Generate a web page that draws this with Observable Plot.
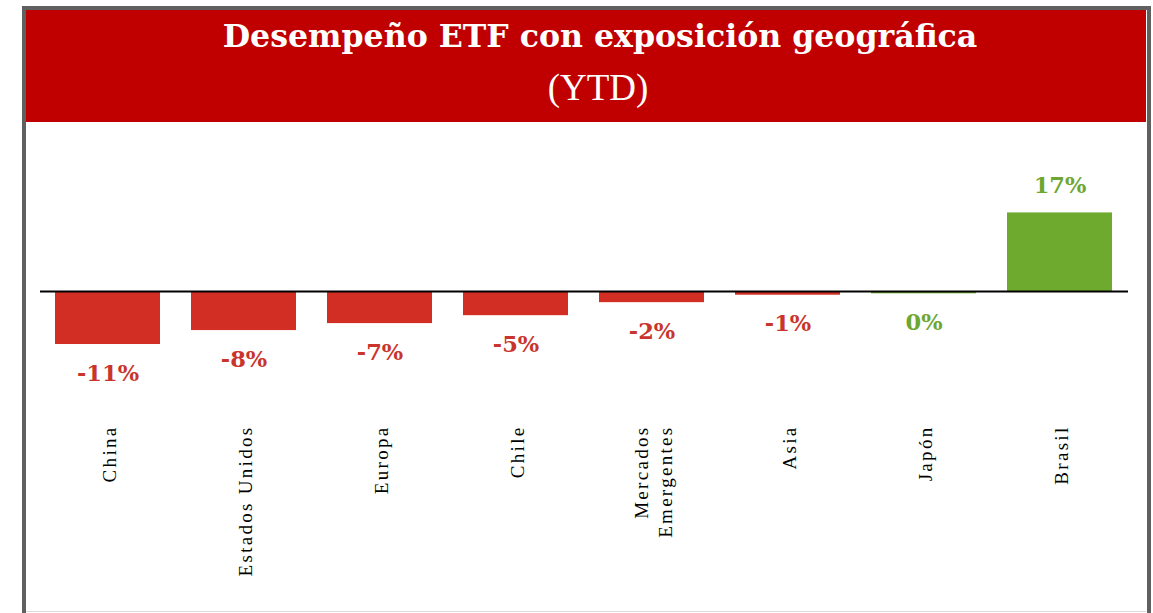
<!DOCTYPE html>
<html><head><meta charset="utf-8">
<script src="https://cdn.jsdelivr.net/npm/d3@7"></script>
<script src="https://cdn.jsdelivr.net/npm/@observablehq/plot@0.6"></script>
<style>
html,body{margin:0;padding:0;background:#fff;width:1153px;height:613px;overflow:hidden;}
#frame{position:absolute;left:22px;top:6px;width:1129px;height:640px;box-sizing:border-box;border:4px solid #606060;border-bottom:none;}
#header{position:absolute;left:26px;top:10px;width:1120px;height:112px;background:#C00000;}
#title{position:absolute;left:26px;width:1148px;top:16px;text-align:center;color:#fff;font-family:"DejaVu Serif";font-weight:bold;font-size:31.6px;line-height:40px;}
#subtitle{position:absolute;left:26px;width:1144px;top:66px;text-align:center;color:#fff;font-family:"Liberation Serif";font-size:37px;line-height:44px;}
#chart{position:absolute;left:0;top:122px;}
#bottomline{position:absolute;left:26px;top:611px;width:1120px;height:1px;background:#dcdcdc;}
</style>
</head><body>
<div id="frame"></div>
<div id="header"></div>
<div id="title">Desempeño ETF con exposición geográfica</div>
<div id="subtitle">(YTD)</div>
<div id="bottomline"></div>
<div id="chart"></div>
<script>
const categories = ["China", "Estados Unidos", "Europa", "Chile", "Mercados\nEmergentes", "Asia", "Japón", "Brasil"];
const values = [-11.4, -8.4, -6.9, -5.2, -2.4, -0.8, -0.5, 16.9];

const data = categories.map((c, i) => ({cat: c, v: values[i], label: `${Math.round(values[i])}%`}));
const isUp = d => Math.round(d.v) >= 0;
const barRed = "#D22E24", barGreen = "#6EAA2E";
const txtRed = "#C9342C", txtGreen = "#6DA731";
const k = 4.65, zero = 169;

const chart = Plot.plot({
  width: 1153,
  height: 491,
  marginLeft: 40,
  marginRight: 25,
  marginTop: 0,
  marginBottom: 188,
  x: {domain: categories, range: [55, 1112], paddingInner: 0.228, paddingOuter: 0, axis: null},
  y: {domain: [-30, 20], range: [zero + 30 * k, zero - 20 * k], axis: null},
  marks: [
    Plot.barY(data, {x: "cat", y: "v", fill: d => isUp(d) ? barGreen : barRed}),
    Plot.ruleY([0], {stroke: "#000", strokeWidth: 2}),
    Plot.text(data.filter(d => d.v < 0), {x: "cat", y: "v", text: "label", dy: 29,
      fill: d => isUp(d) ? txtGreen : txtRed, fontSize: 22.5, fontWeight: "bold", fontFamily: "DejaVu Serif"}),
    Plot.text(data.filter(d => d.v >= 0), {x: "cat", y: "v", text: "label", dy: -27,
      fill: d => isUp(d) ? txtGreen : txtRed, fontSize: 22.5, fontWeight: "bold", fontFamily: "DejaVu Serif"}),
    Plot.text(categories, {x: d => d, frameAnchor: "bottom", rotate: -90, textAnchor: "end",
      lineAnchor: "middle", lineHeight: 1.3, fontSize: 19, fontFamily: "Liberation Serif", fill: "#000"})
  ]
});
document.getElementById("chart").appendChild(chart);
const groups = chart.querySelectorAll('g[aria-label="text"]');
groups[groups.length - 1].style.letterSpacing = "2.3px";
</script>
</body></html>
